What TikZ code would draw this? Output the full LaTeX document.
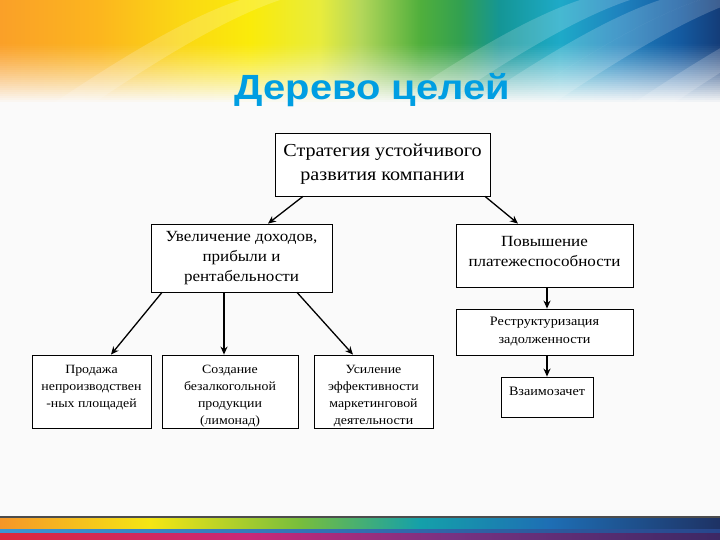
\documentclass[tikz,border=0pt]{standalone}
\usepackage{fontspec}
\setmainfont[FakeStretch=1.1]{Liberation Serif}
\newfontfamily\titlefont[FakeStretch=1.14]{Liberation Sans}
\usetikzlibrary{arrows.meta}
\definecolor{bgc}{RGB}{250,250,250}
\definecolor{titlec}{RGB}{0,158,226}
\definecolor{ra}{RGB}{250,160,40}
\definecolor{rb}{RGB}{252,182,30}
\definecolor{rc}{RGB}{250,215,20}
\definecolor{rd}{RGB}{250,235,10}
\definecolor{re}{RGB}{232,236,60}
\definecolor{rf}{RGB}{180,215,90}
\definecolor{rg}{RGB}{80,175,60}
\definecolor{rh}{RGB}{50,160,80}
\definecolor{ri}{RGB}{20,150,150}
\definecolor{rj}{RGB}{30,170,200}
\definecolor{rk}{RGB}{30,130,190}
\definecolor{rl}{RGB}{20,90,160}
\definecolor{rm}{RGB}{20,60,120}
\definecolor{ba}{RGB}{245,150,40}
\definecolor{bb}{RGB}{245,230,20}
\definecolor{bc}{RGB}{120,190,60}
\definecolor{bd}{RGB}{20,160,170}
\definecolor{be}{RGB}{30,110,180}
\definecolor{bf}{RGB}{30,50,100}
\definecolor{ca}{RGB}{60,150,210}
\definecolor{cb}{RGB}{40,70,140}
\definecolor{pa}{RGB}{220,40,60}
\definecolor{pb}{RGB}{200,40,120}
\definecolor{pc}{RGB}{120,50,130}
\definecolor{pd}{RGB}{60,40,100}
\pgfdeclarehorizontalshading{rainbowtop}{100bp}{color(0bp)=(ra); color(25bp)=(ra); color(31.94bp)=(rb); color(37.5bp)=(rc); color(42.36bp)=(rd); color(47.22bp)=(re); color(50bp)=(rf); color(54.17bp)=(rg); color(56.94bp)=(rh); color(59.72bp)=(ri); color(63.89bp)=(rj); color(68.06bp)=(rk); color(72.22bp)=(rl); color(75bp)=(rm); color(100bp)=(rm)}
\pgfdeclarehorizontalshading{rainbowbot}{100bp}{color(0bp)=(ba); color(25bp)=(ba); color(35.4bp)=(bb); color(45.8bp)=(bc); color(54.2bp)=(bd); color(63.2bp)=(be); color(75bp)=(bf); color(100bp)=(bf)}
\pgfdeclarehorizontalshading{bluebot}{100bp}{color(0bp)=(ca); color(25bp)=(ca); color(75bp)=(cb); color(100bp)=(cb)}
\pgfdeclarehorizontalshading{purplebot}{100bp}{color(0bp)=(pa); color(25bp)=(pa); color(42.4bp)=(pb); color(56.3bp)=(pc); color(75bp)=(pd); color(100bp)=(pd)}
\tikzset{
  box/.style={draw=black, line width=0.8pt, fill=white, inner sep=0pt},
  txt/.style={align=center, inner sep=0pt},
  arr/.style={line width=1.3pt, -{Stealth[length=8pt,width=7pt]}},
  fbig/.style={font=\fontsize{18.3}{24}\selectfont},
  fmid/.style={font=\fontsize{15.5}{20}\selectfont},
  fres/.style={font=\fontsize{12.9}{18}\selectfont},
  fsml/.style={font=\fontsize{12.6}{17}\selectfont}
}
\begin{document}
\begin{tikzpicture}[x=1pt,y=-1pt]
\useasboundingbox (0,0) rectangle (720,540);
% background
\fill[bgc] (0,0) rectangle (720,540);
\shade[shading=rainbowtop] (0,0) rectangle (720,140);
\foreach \xa/\xb in {20/60, 300/340, 640/690, 720/760, 760/800, 880/920, 990/1030} {
  \fill[white, opacity=0.18] (\xa-300,140) .. controls (\xa-200,70) and (\xa-120,20) .. (\xa-60,0) -- (\xb-60,0) .. controls (\xb-120,20) and (\xb-200,70) .. (\xb-300,140) -- cycle;
}
\foreach \i in {0,...,34} {
  \pgfmathsetmacro{\op}{min(1,(\i/30)^1.2)}
  \fill[bgc, opacity=\op] (0,42+\i*2) rectangle (720,44+\i*2);
}
\fill[bgc] (0,110) rectangle (720,517);
% bottom strip
\shade[shading=rainbowbot] (0,517) rectangle (720,529);
\shade[shading=bluebot] (0,529) rectangle (720,533);
\shade[shading=purplebot] (0,533) rectangle (720,540);
\draw[black!70, line width=1.2pt] (0,517) -- (720,517);
% title
\node[txt, text=titlec, font=\titlefont\bfseries\fontsize{35}{42}\selectfont, anchor=base] (title) at (372.5,100) {Дерево целей};
% boxes
\node[box, minimum width=215pt, minimum height=63pt] (top) at (382.5,164.5) {};
\node[box, minimum width=181pt, minimum height=68pt] (inc) at (241.5,258) {};
\node[box, minimum width=177pt, minimum height=63pt] (pov) at (544.5,255.5) {};
\node[box, minimum width=177pt, minimum height=46pt] (res) at (544.5,332) {};
\node[box, minimum width=92pt, minimum height=40pt] (vz) at (547,397) {};
\node[box, minimum width=119pt, minimum height=73pt] (pro) at (91.5,391.5) {};
\node[box, minimum width=136pt, minimum height=73pt] (soz) at (230,391.5) {};
\node[box, minimum width=119pt, minimum height=73pt] (usi) at (373.5,391.5) {};
% texts
\node[txt, fbig] (ttop) at (top) {Стратегия устойчивого\\развития компании};
\node[txt, fmid] (tinc) at (inc) {Увеличение доходов,\\прибыли и\\рентабельности};
\node[txt, fmid] (tpov) at ([yshift=4pt]pov.center) {Повышение\\платежеспособности};
\node[txt, fres] (tres) at (res) {Реструктуризация\\задолженности};
\node[txt, fres, anchor=north] (tvz) at ([yshift=-10.5pt]vz.north) {Взаимозачет};
\node[txt, fsml, anchor=north] (tpro) at ([yshift=-10.5pt]pro.north) {Продажа\\непроизводствен\\-ных площадей};
\node[txt, fsml, anchor=north] (tsoz) at ([yshift=-10.5pt]soz.north) {Создание\\безалкогольной\\продукции\\(лимонад)};
\node[txt, fsml, anchor=north] (tusi) at ([yshift=-10.5pt]usi.north) {Усиление\\эффективности\\маркетинговой\\деятельности};
% connectors
\draw[arr] ([xshift=-79.5pt]top.south) -- ([xshift=26.5pt]inc.north);
\draw[arr] ([xshift=102.5pt]top.south) -- ([xshift=-26.5pt]pov.north);
\draw[arr] ([xshift=-79.5pt]inc.south) -- ([xshift=19.5pt]pro.north);
\draw[arr] ([xshift=-17.5pt]inc.south) -- ([xshift=-6pt]soz.north);
\draw[arr] ([xshift=55.5pt]inc.south) -- ([xshift=-20.5pt]usi.north);
\draw[arr] ([xshift=2.5pt]pov.south) -- ([xshift=2.5pt]res.north);
\draw[arr] ([xshift=2.5pt]res.south) -- (vz.north);
\end{tikzpicture}
\end{document}
